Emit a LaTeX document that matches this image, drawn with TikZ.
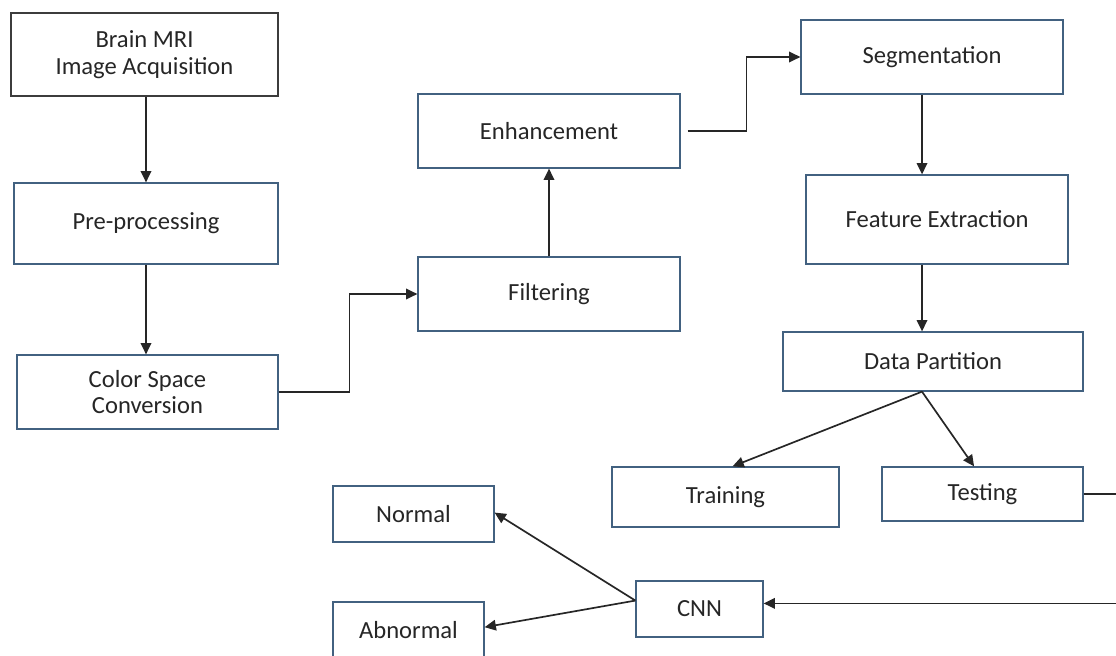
\documentclass[tikz,border=0pt]{standalone}
\usepackage{fontspec}
\setmainfont{Carlito}
\usepackage{tikz}
\usetikzlibrary{arrows.meta,positioning,calc}
\definecolor{boxBlue}{RGB}{66,97,128}
\definecolor{boxDark}{RGB}{60,60,60}
\definecolor{textGray}{RGB}{38,38,38}

\begin{document}
\begin{tikzpicture}[x=0.025cm, y=-0.025cm,
  every node/.style={font=\fontsize{17.5}{19}\selectfont, text=textGray},
  stage/.style={draw=boxBlue, line width=0.9pt, fill=white, align=center, inner sep=0pt},
  arr/.style={-{Triangle[length=8pt,width=7.5pt]}, line width=1.2pt, black!85}]
  \useasboundingbox (0,0) rectangle (1116,656);
  \clip (0,0) rectangle (1116,656);
  % Processing boxes
  \node[stage, draw=boxDark, minimum width=267*0.025cm, minimum height=83*0.025cm]
    (mri) at (144.5,54.5) {Brain MRI\\Image Acquisition};
  \node[stage, minimum width=264*0.025cm, minimum height=81*0.025cm]
    (pre) at (146,223.5) {Pre-processing};
  \node[stage, minimum width=261*0.025cm, minimum height=74*0.025cm]
    (csc) at (147.5,392) {Color Space\\Conversion};
  \node[stage, minimum width=262*0.025cm, minimum height=74*0.025cm]
    (filt) at (549,294) {Filtering};
  \node[stage, minimum width=262*0.025cm, minimum height=74*0.025cm]
    (enh) at (549,131) {Enhancement};
  \node[stage, minimum width=262*0.025cm, minimum height=74*0.025cm]
    (seg) at (932,57) {Segmentation};
  \node[stage, minimum width=262*0.025cm, minimum height=89*0.025cm]
    (feat) at (937,219.5) {Feature Extraction};
  \node[stage, minimum width=300*0.025cm, minimum height=59*0.025cm]
    (part) at (933,361.5) {Data Partition};
  \node[stage, minimum width=227*0.025cm, minimum height=60*0.025cm]
    (train) at (725.5,497) {Training};
  \node[stage, minimum width=201*0.025cm, minimum height=54*0.025cm]
    (test) at (982.5,494) {Testing};
  % Classifier and outputs
  \node[stage, minimum width=127*0.025cm, minimum height=56*0.025cm]
    (cnn) at (699.5,609) {CNN};
  \node[stage, minimum width=161*0.025cm, minimum height=56*0.025cm]
    (normal) at (413.5,514) {Normal};
  \node[stage, minimum width=151*0.025cm, minimum height=56*0.025cm]
    (abn) at (408.5,630) {Abnormal};
  \coordinate (axis) at (922,0);
  % Connectors
  \draw[arr] (pre.north |- mri.south) -- (pre.north);
  \draw[arr] (pre.south) -- (pre.south |- csc.north);
  \draw[arr] (csc.east) -- ++(71,0) |- (filt.west);
  \draw[arr] (filt) -- (enh);
  \draw[arr, shorten <=5pt] (enh.east) -- ++(66,0) |- (seg.west);
  \draw[arr] (seg.south -| axis) -- (feat.north -| axis);
  \draw[arr] (feat.south -| axis) -- (part.north -| axis);
  \draw[arr] (part.south -| axis) -- ([xshift=5pt]train.north);
  \draw[arr] (part.south -| axis) -- ([xshift=-6pt]test.north);
  \draw[arr] (test.east) -- ++(60,0) |- ([yshift=4pt]cnn.east);
  \draw[arr] ([yshift=6pt]cnn.west) -- ([yshift=1pt]normal.east);
  \draw[arr] ([yshift=6pt]cnn.west) -- ([yshift=2pt]abn.east);
\end{tikzpicture}
\end{document}
